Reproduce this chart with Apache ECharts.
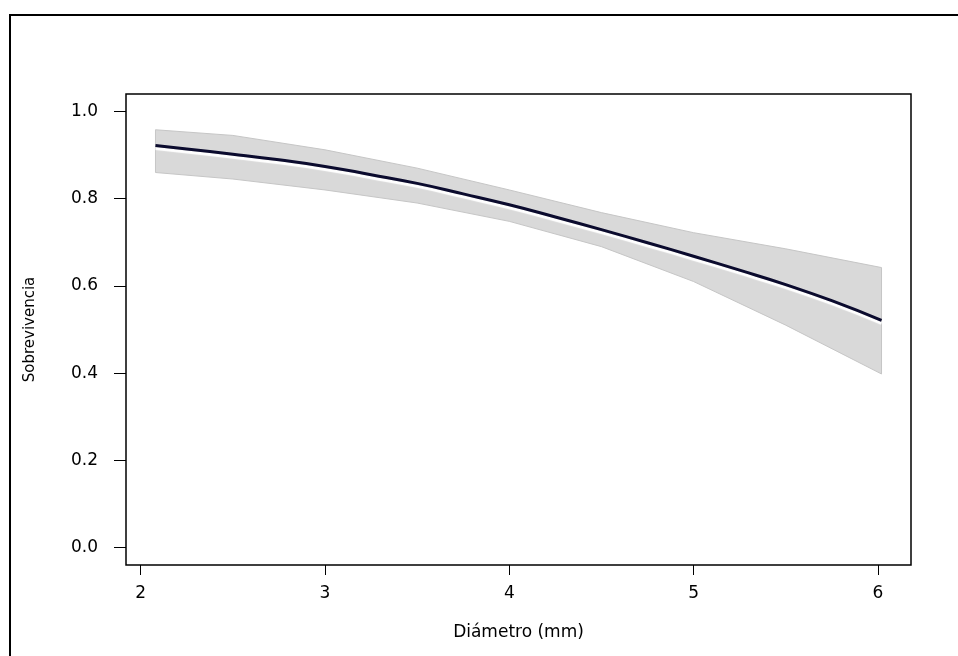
<!DOCTYPE html>
<html>
<head>
<meta charset="utf-8">
<script src="https://cdn.jsdelivr.net/npm/echarts@6/dist/echarts.min.js"></script>
<style>
html,body{margin:0;padding:0;background:#fff;}
#chart{width:958px;height:656px;}
</style>
</head>
<body>
<div id="chart"></div>
<script>
// Fitted survival curve (Diámetro vs Sobrevivencia)
const curveX = [2.08, 2.25, 2.5, 2.75, 3.0, 3.25, 3.5, 3.75, 4.0, 4.25, 4.5, 4.75, 5.0, 5.25, 5.5, 5.75, 6.02];
const curveY = [0.922, 0.914, 0.902, 0.889, 0.874, 0.855, 0.835, 0.811, 0.786, 0.758, 0.729, 0.699, 0.668, 0.636, 0.603, 0.566, 0.521];
// Confidence band
const bandX = [2.08, 2.5, 3.0, 3.5, 4.0, 4.5, 5.0, 5.5, 6.02];
const bandUpper = [0.958, 0.945, 0.912, 0.870, 0.820, 0.768, 0.722, 0.685, 0.642];
const bandLower = [0.860, 0.845, 0.820, 0.790, 0.748, 0.690, 0.610, 0.510, 0.398];
// Tick labels
const xTicks = [2, 3, 4, 5, 6];
const yTicks = [0, 0.2, 0.4, 0.6, 0.8, 1.0];

const chart = echarts.init(document.getElementById('chart'));
const font = 'DejaVu Sans, Liberation Sans, sans-serif';

const bandData = bandX.map((x, i) => [x, bandLower[i], bandUpper[i]]);
const lineData = curveX.map((x, i) => [x, curveY[i]]);

chart.setOption({
  animation: false,
  backgroundColor: '#ffffff',
  graphic: [{
    type: 'rect',
    shape: { x: 10, y: 15, width: 1000, height: 700 },
    style: { fill: 'none', stroke: '#000', lineWidth: 2 },
    z: 100
  }],
  grid: {
    left: 126, top: 94, right: 47, bottom: 91,
    show: true, borderColor: '#000', borderWidth: 1.5, backgroundColor: 'transparent'
  },
  xAxis: {
    type: 'value', min: 1.92, max: 6.18,
    name: 'Diámetro (mm)', nameLocation: 'middle', nameGap: 59,
    nameTextStyle: { fontFamily: font, fontSize: 17, color: '#000' },
    axisLine: { show: false, onZero: false },
    axisTick: { show: true, length: 10, customValues: xTicks, lineStyle: { color: '#000', width: 1 } },
    axisLabel: { customValues: xTicks, margin: 20, fontFamily: font, fontSize: 17, color: '#000',
      formatter: v => String(v) },
    splitLine: { show: false }
  },
  yAxis: {
    type: 'value', min: -0.04, max: 1.04,
    name: 'Sobrevivencia', nameLocation: 'middle', nameGap: 88, nameRotate: 90,
    nameTextStyle: { fontFamily: font, fontSize: 15, color: '#000' },
    axisLine: { show: false, onZero: false },
    axisTick: { show: true, length: 12, customValues: yTicks, lineStyle: { color: '#000', width: 1 } },
    axisLabel: { customValues: yTicks, margin: 28, fontFamily: font, fontSize: 17, color: '#000',
      formatter: v => v.toFixed(1) },
    splitLine: { show: false }
  },
  series: [
    {
      type: 'custom',
      data: bandData,
      encode: { x: 0, y: [1, 2] },
      renderItem: function (params, api) {
        if (params.dataIndex !== 0) return null;
        const pts = [];
        for (let i = 0; i < bandX.length; i++) pts.push(api.coord([bandX[i], bandUpper[i]]));
        for (let i = bandX.length - 1; i >= 0; i--) pts.push(api.coord([bandX[i], bandLower[i]]));
        return {
          type: 'polygon',
          shape: { points: pts },
          style: { fill: '#d9d9d9', stroke: '#c6c6c6', lineWidth: 1 }
        };
      },
      z: 1
    },
    {
      type: 'line',
      data: lineData,
      smooth: true,
      showSymbol: false,
      lineStyle: { color: '#0b0b2e', width: 3, shadowColor: '#ffffff', shadowBlur: 1, shadowOffsetY: 3 },
      z: 3
    }
  ]
});
</script>
</body>
</html>
